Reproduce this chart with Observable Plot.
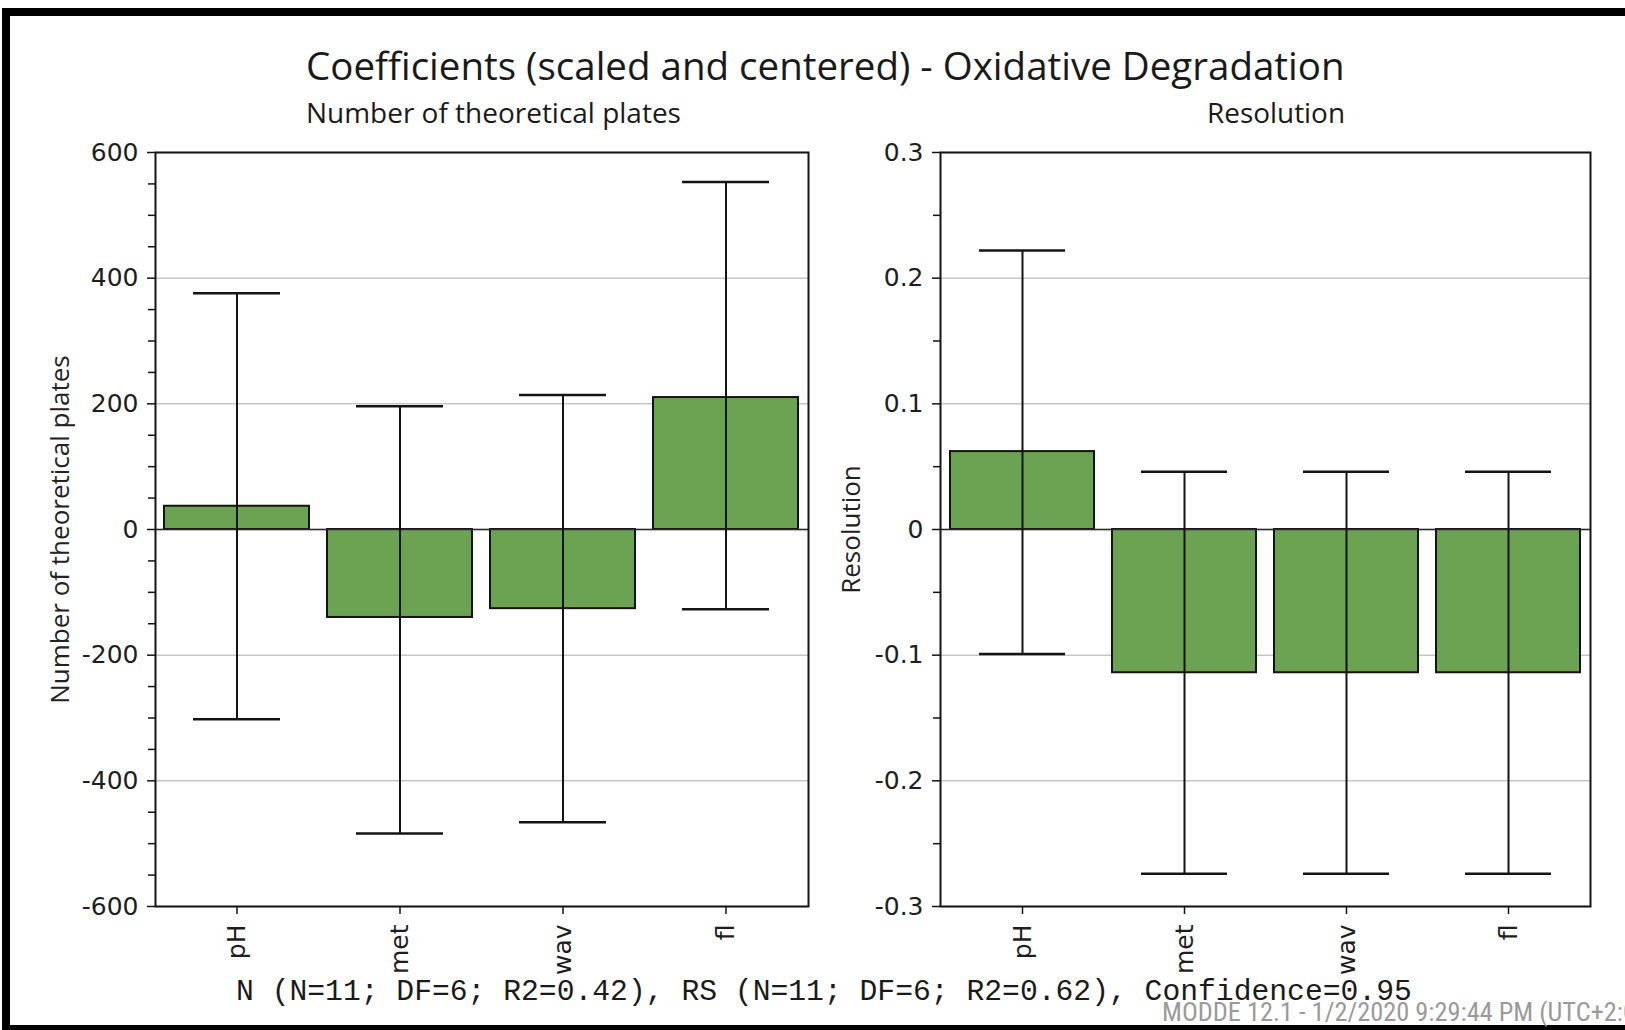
<!DOCTYPE html>
<html>
<head>
<meta charset="utf-8">
<script src="https://cdn.jsdelivr.net/npm/d3@7"></script>
<script src="https://cdn.jsdelivr.net/npm/@observablehq/plot@0.6"></script>
<style>
  html, body { margin: 0; padding: 0; background: #fff; }
  body { width: 1625px; height: 1030px; overflow: hidden; position: relative; }
  #border { position: absolute; left: 2px; top: 8px; width: 1700px; height: 1022px; box-sizing: border-box;
            border-left: 8px solid #000; border-top: 8px solid #000; border-bottom: 5px solid #000; }
  .panel { position: absolute; top: 0; }
  #overlay { position: absolute; left: 0; top: 0; pointer-events: none; }
</style>
</head>
<body>
<div id="border"></div>
<div id="left" class="panel" style="left:0px"></div>
<div id="right" class="panel" style="left:815px"></div>
<svg id="overlay" width="1625" height="1030"></svg>
<script>
// ---------- data ----------
const terms = ["pH", "met", "wav", "fl"];

const platesCoef = [37, -140, -126, 210];
const platesLow  = [-302, -484, -466, -127];
const platesHigh = [376, 196, 214, 553];

const resCoef = [0.062, -0.114, -0.114, -0.114];
const resLow  = [-0.099, -0.274, -0.274, -0.274];
const resHigh = [0.222, 0.046, 0.046, 0.046];

const platesTicks = [-600, -400, -200, 0, 200, 400, 600];
const platesMinor = [-550, -500, -450, -350, -300, -250, -150, -100, -50, 50, 100, 150, 250, 300, 350, 450, 500, 550];
const resTicks = [-0.3, -0.2, -0.1, 0, 0.1, 0.2, 0.3];
const resMinor = [-0.25, -0.15, -0.05, 0.05, 0.15, 0.25];

const titleText = "Coefficients (scaled and centered) - Oxidative Degradation";
const platesLabel = "Number of theoretical plates";
const resLabel = "Resolution";
const footerText = "N (N=11; DF=6; R2=0.42), RS (N=11; DF=6; R2=0.62), Confidence=0.95";
const stampText = "MODDE 12.1 - 1/2/2020 9:29:44 PM (UTC+2:00)";

// ---------- style ----------
const H = 1030;
const barFill = "#6ca352";
const ink = "#141414";
const sansUI = "'Open Sans', 'Noto Sans', sans-serif";
const tickFont = "'DejaVu Sans', Verdana, sans-serif";

function panel({coef, lo, hi, domain, major, minor, label, width, marginLeft, marginRight, labelDx}) {
  const data = terms.map((t, i) => ({term: t, coef: coef[i], lo: lo[i], hi: hi[i]}));
  return Plot.plot({
    width, height: H,
    marginLeft, marginRight, marginTop: 152, marginBottom: H - 906,
    style: {background: "transparent", overflow: "visible"},
    x: {domain: terms, paddingInner: 0.11, paddingOuter: 0.055},
    y: {domain},
    marks: [
      Plot.gridY(major, {stroke: "#c6c6c6", strokeOpacity: 1, strokeWidth: 1.5}),
      Plot.barY(data, {x: "term", y: "coef", fill: barFill, stroke: ink, strokeWidth: 2}),
      Plot.ruleY([0], {stroke: "#2a2a2a", strokeWidth: 1.5}),
      Plot.ruleX(data, {x: "term", y1: "lo", y2: "hi", stroke: ink, strokeWidth: 2}),
      Plot.tickY(data, {x: "term", y: "hi", stroke: ink, strokeWidth: 2.5, inset: 29}),
      Plot.tickY(data, {x: "term", y: "lo", stroke: ink, strokeWidth: 2.5, inset: 29}),
      Plot.frame({stroke: ink, strokeWidth: 2}),
      Plot.axisY(major, {tickSize: 8, tickPadding: 9, tickFormat: d => `${d}`, fontSize: 25,
                         fontFamily: tickFont, label: null, stroke: ink, strokeWidth: 1.5, color: "#1e1e1e"}),
      Plot.axisY(minor, {tickSize: 7, text: null, label: null, stroke: ink, strokeWidth: 1.5}),
      Plot.axisX({tickSize: 8, tickPadding: 10, tickRotate: -90, fontSize: 25, fontFamily: tickFont,
                  label: null, stroke: ink, strokeWidth: 1.5, color: "#1e1e1e"}),
      Plot.text([label], {frameAnchor: "left", rotate: -90, dx: labelDx, fontSize: 26, textAnchor: "middle",
                          fontFamily: sansUI, lineAnchor: "middle", fill: "#222"})
    ]
  });
}

document.getElementById("left").append(panel({
  coef: platesCoef, lo: platesLow, hi: platesHigh, domain: [-600, 600],
  major: platesTicks, minor: platesMinor, label: platesLabel,
  width: 815, marginLeft: 155, marginRight: 7, labelDx: -95
}));
document.getElementById("right").append(panel({
  coef: resCoef, lo: resLow, hi: resHigh, domain: [-0.3, 0.3],
  major: resTicks, minor: resMinor, label: resLabel,
  width: 810, marginLeft: 125, marginRight: 35, labelDx: -89
}));

// ---------- titles / footer (overlay text) ----------
const ov = d3.select("#overlay");
function addText(str, {x, y, anchor = "start", family, size, fill = "#1a1a1a", fitWidth, fitStr, stretch}) {
  const t = ov.append("text").attr("x", x).attr("y", y).attr("text-anchor", anchor)
    .attr("font-family", family).attr("font-size", size).attr("fill", fill).text(str);
  if (stretch) t.attr("font-stretch", stretch);
  if (fitWidth) {
    let w;
    if (fitStr) {
      const tmp = ov.append("text").attr("font-family", family).attr("font-size", size).text(fitStr);
      if (stretch) tmp.attr("font-stretch", stretch);
      w = tmp.node().getComputedTextLength();
      tmp.remove();
    } else {
      w = t.node().getComputedTextLength();
    }
    if (w > 0) t.attr("font-size", size * fitWidth / w);
  }
  return t;
}
addText(titleText, {x: 306, y: 80, family: sansUI, size: 35, fitWidth: 1039});
addText(platesLabel, {x: 306, y: 123, family: sansUI, size: 25, fitWidth: 375});
addText(resLabel, {x: 1345, y: 123, anchor: "end", family: sansUI, size: 25, fitWidth: 138});
addText(footerText, {x: 236, y: 1000, family: "'Liberation Mono', 'DejaVu Sans Mono', monospace", size: 28, fitWidth: 1176});
addText(stampText, {x: 1162, y: 1021, family: "'Liberation Sans Narrow', 'Roboto', sans-serif", size: 18,
  fill: "#9a9a9a", fitWidth: 455, fitStr: "MODDE 12.1 - 1/2/2020 9:29:44 PM (UTC+2", stretch: "condensed"});
</script>
</body>
</html>
